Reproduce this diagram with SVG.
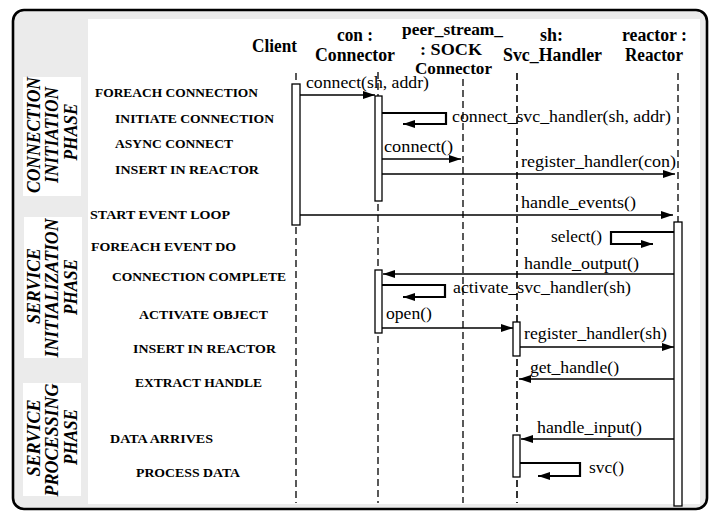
<svg xmlns="http://www.w3.org/2000/svg" width="714" height="512" viewBox="0 0 714 512">
<style>
text{font-family:'Liberation Serif','DejaVu Serif',serif;fill:#000}
.hdr{font-weight:bold;font-size:18px}
.hdr2{font-weight:bold;font-size:16.5px}
.lbl{font-weight:bold;font-size:12.5px}
.msg{font-size:17.5px}
.ph{font-weight:bold;font-style:italic;font-size:19px}
.life{stroke:#000;stroke-width:1.3;stroke-dasharray:7 4;fill:none}
.act{fill:#fff;stroke:#000;stroke-width:1.3}
.arr{stroke:#000;stroke-width:1.3;fill:none;marker-end:url(#ah)}
.loop{stroke:#000;stroke-width:2.2;fill:none;marker-end:url(#ah)}
</style>
<defs>
<marker id="ah" markerUnits="userSpaceOnUse" markerWidth="13" markerHeight="9" refX="12" refY="4" orient="auto">
<path d="M0,0 L12,4 L0,8 z" fill="#000"/>
</marker>
</defs>

<g id="frame">
<rect x="13" y="10" width="694" height="499" rx="11" ry="11" fill="#ebebeb" stroke="#000" stroke-width="2.6"/>
<rect x="88" y="19" width="612" height="485" fill="#fff"/>
</g>

<g id="phase-connection">
<rect x="23" y="77" width="58" height="119" fill="#fff"/>
<text class="ph" text-anchor="middle" transform="translate(40,135) rotate(-90)" textLength="116" lengthAdjust="spacingAndGlyphs">CONNECTION</text>
<text class="ph" text-anchor="middle" transform="translate(58,135) rotate(-90)" textLength="96" lengthAdjust="spacingAndGlyphs">INITIATION</text>
<text class="ph" text-anchor="middle" transform="translate(77,132) rotate(-90)" textLength="57" lengthAdjust="spacingAndGlyphs">PHASE</text>
</g>
<g id="phase-init">
<rect x="24" y="217" width="58" height="141" fill="#fff"/>
<text class="ph" text-anchor="middle" transform="translate(40,286) rotate(-90)" textLength="76" lengthAdjust="spacingAndGlyphs">SERVICE</text>
<text class="ph" text-anchor="middle" transform="translate(58,288) rotate(-90)" textLength="139" lengthAdjust="spacingAndGlyphs">INITIALIZATION</text>
<text class="ph" text-anchor="middle" transform="translate(77,287) rotate(-90)" textLength="56" lengthAdjust="spacingAndGlyphs">PHASE</text>
</g>
<g id="phase-processing">
<rect x="23" y="383" width="58" height="113" fill="#fff"/>
<text class="ph" text-anchor="middle" transform="translate(40,438) rotate(-90)" textLength="77" lengthAdjust="spacingAndGlyphs">SERVICE</text>
<text class="ph" text-anchor="middle" transform="translate(58,440) rotate(-90)" textLength="113" lengthAdjust="spacingAndGlyphs">PROCESSING</text>
<text class="ph" text-anchor="middle" transform="translate(77,437) rotate(-90)" textLength="56" lengthAdjust="spacingAndGlyphs">PHASE</text>
</g>

<g id="steps">
<text class="lbl" x="95" y="97" textLength="163" lengthAdjust="spacingAndGlyphs">FOREACH CONNECTION</text>
<text class="lbl" x="115" y="123" textLength="159" lengthAdjust="spacingAndGlyphs">INITIATE CONNECTION</text>
<text class="lbl" x="115" y="148" textLength="118" lengthAdjust="spacingAndGlyphs">ASYNC CONNECT</text>
<text class="lbl" x="115" y="174" textLength="144" lengthAdjust="spacingAndGlyphs">INSERT IN REACTOR</text>
<text class="lbl" x="90" y="219" textLength="140" lengthAdjust="spacingAndGlyphs">START EVENT LOOP</text>
<text class="lbl" x="91" y="251" textLength="145" lengthAdjust="spacingAndGlyphs">FOREACH EVENT DO</text>
<text class="lbl" x="112" y="281" textLength="174" lengthAdjust="spacingAndGlyphs">CONNECTION COMPLETE</text>
<text class="lbl" x="139" y="319" textLength="129" lengthAdjust="spacingAndGlyphs">ACTIVATE OBJECT</text>
<text class="lbl" x="133" y="353" textLength="143" lengthAdjust="spacingAndGlyphs">INSERT IN REACTOR</text>
<text class="lbl" x="135" y="387" textLength="127" lengthAdjust="spacingAndGlyphs">EXTRACT HANDLE</text>
<text class="lbl" x="110" y="443" textLength="103" lengthAdjust="spacingAndGlyphs">DATA ARRIVES</text>
<text class="lbl" x="136" y="477" textLength="104" lengthAdjust="spacingAndGlyphs">PROCESS DATA</text>
</g>

<g id="client">
<text class="hdr" x="252" y="52" textLength="45" lengthAdjust="spacingAndGlyphs">Client</text>
<line class="life" x1="296" y1="73" x2="296" y2="503"/>
<rect class="act" x="292" y="84" width="8" height="141"/>
</g>
<g id="connector">
<text class="hdr" x="337" y="41" textLength="36" lengthAdjust="spacingAndGlyphs">con :</text>
<text class="hdr" x="315" y="61" textLength="80" lengthAdjust="spacingAndGlyphs">Connector</text>
<line class="life" x1="378" y1="72" x2="378" y2="503"/>
<rect class="act" x="375" y="96" width="7" height="105"/>
<rect class="act" x="375" y="270" width="7" height="63"/>
</g>
<g id="sock-connector">
<text class="hdr2" x="402" y="35" textLength="101" lengthAdjust="spacingAndGlyphs">peer_stream_</text>
<text class="hdr2" x="420" y="55" textLength="62" lengthAdjust="spacingAndGlyphs">: SOCK</text>
<text class="hdr2" x="415" y="74" textLength="77" lengthAdjust="spacingAndGlyphs">Connector</text>
<line class="life" x1="463" y1="79" x2="463" y2="503"/>
</g>
<g id="svc-handler">
<text class="hdr" x="540" y="41" textLength="23" lengthAdjust="spacingAndGlyphs">sh:</text>
<text class="hdr" x="503" y="61" textLength="99" lengthAdjust="spacingAndGlyphs">Svc_Handler</text>
<line class="life" x1="517" y1="73" x2="517" y2="503" style="stroke-width:1.6"/>
<rect class="act" x="513" y="322" width="7" height="34"/>
<rect class="act" x="513" y="435" width="7" height="42"/>
</g>
<g id="reactor">
<text class="hdr" x="622" y="41" textLength="65" lengthAdjust="spacingAndGlyphs">reactor :</text>
<text class="hdr" x="625" y="61" textLength="58" lengthAdjust="spacingAndGlyphs">Reactor</text>
<line class="life" x1="678" y1="73" x2="678" y2="503"/>
<rect class="act" x="674" y="222" width="8" height="284"/>
</g>

<g id="connectors">
<line class="arr" x1="300" y1="95" x2="375" y2="95"/>
<text class="msg" x="306" y="88" textLength="123" lengthAdjust="spacingAndGlyphs">connect(sh, addr)</text>
<path class="loop" d="M382,113 H446 V124 H403"/>
<text class="msg" x="452" y="122" textLength="219" lengthAdjust="spacingAndGlyphs">connect_svc_handler(sh, addr)</text>
<line class="arr" x1="382" y1="159" x2="461" y2="159"/>
<text class="msg" x="384" y="152" textLength="69" lengthAdjust="spacingAndGlyphs">connect()</text>
<line class="arr" x1="382" y1="174" x2="675" y2="174"/>
<text class="msg" x="521" y="167" textLength="155" lengthAdjust="spacingAndGlyphs">register_handler(con)</text>
<line class="arr" x1="300" y1="215" x2="673" y2="215"/>
<text class="msg" x="521" y="208" textLength="115" lengthAdjust="spacingAndGlyphs">handle_events()</text>
<path class="loop" d="M674,232 H611 V244 H653"/>
<text class="msg" x="551" y="242" textLength="51" lengthAdjust="spacingAndGlyphs">select()</text>
<line class="arr" x1="674" y1="274" x2="383" y2="274"/>
<text class="msg" x="524" y="269" textLength="115" lengthAdjust="spacingAndGlyphs">handle_output()</text>
<path class="loop" d="M382,285 H445 V297 H403"/>
<text class="msg" x="453" y="293" textLength="178" lengthAdjust="spacingAndGlyphs">activate_svc_handler(sh)</text>
<line class="arr" x1="382" y1="328" x2="513" y2="328"/>
<text class="msg" x="386" y="319" textLength="46" lengthAdjust="spacingAndGlyphs">open()</text>
<line class="arr" x1="520" y1="347" x2="674" y2="347"/>
<text class="msg" x="524" y="339" textLength="143" lengthAdjust="spacingAndGlyphs">register_handler(sh)</text>
<line class="arr" x1="674" y1="379" x2="519" y2="379"/>
<text class="msg" x="530" y="373" textLength="89" lengthAdjust="spacingAndGlyphs">get_handle()</text>
<line class="arr" x1="674" y1="439" x2="521" y2="439"/>
<text class="msg" x="537" y="433" textLength="105" lengthAdjust="spacingAndGlyphs">handle_input()</text>
<path class="loop" d="M520,463 H580 V476 H538"/>
<text class="msg" x="589" y="473" textLength="35" lengthAdjust="spacingAndGlyphs">svc()</text>
</g>
</svg>
